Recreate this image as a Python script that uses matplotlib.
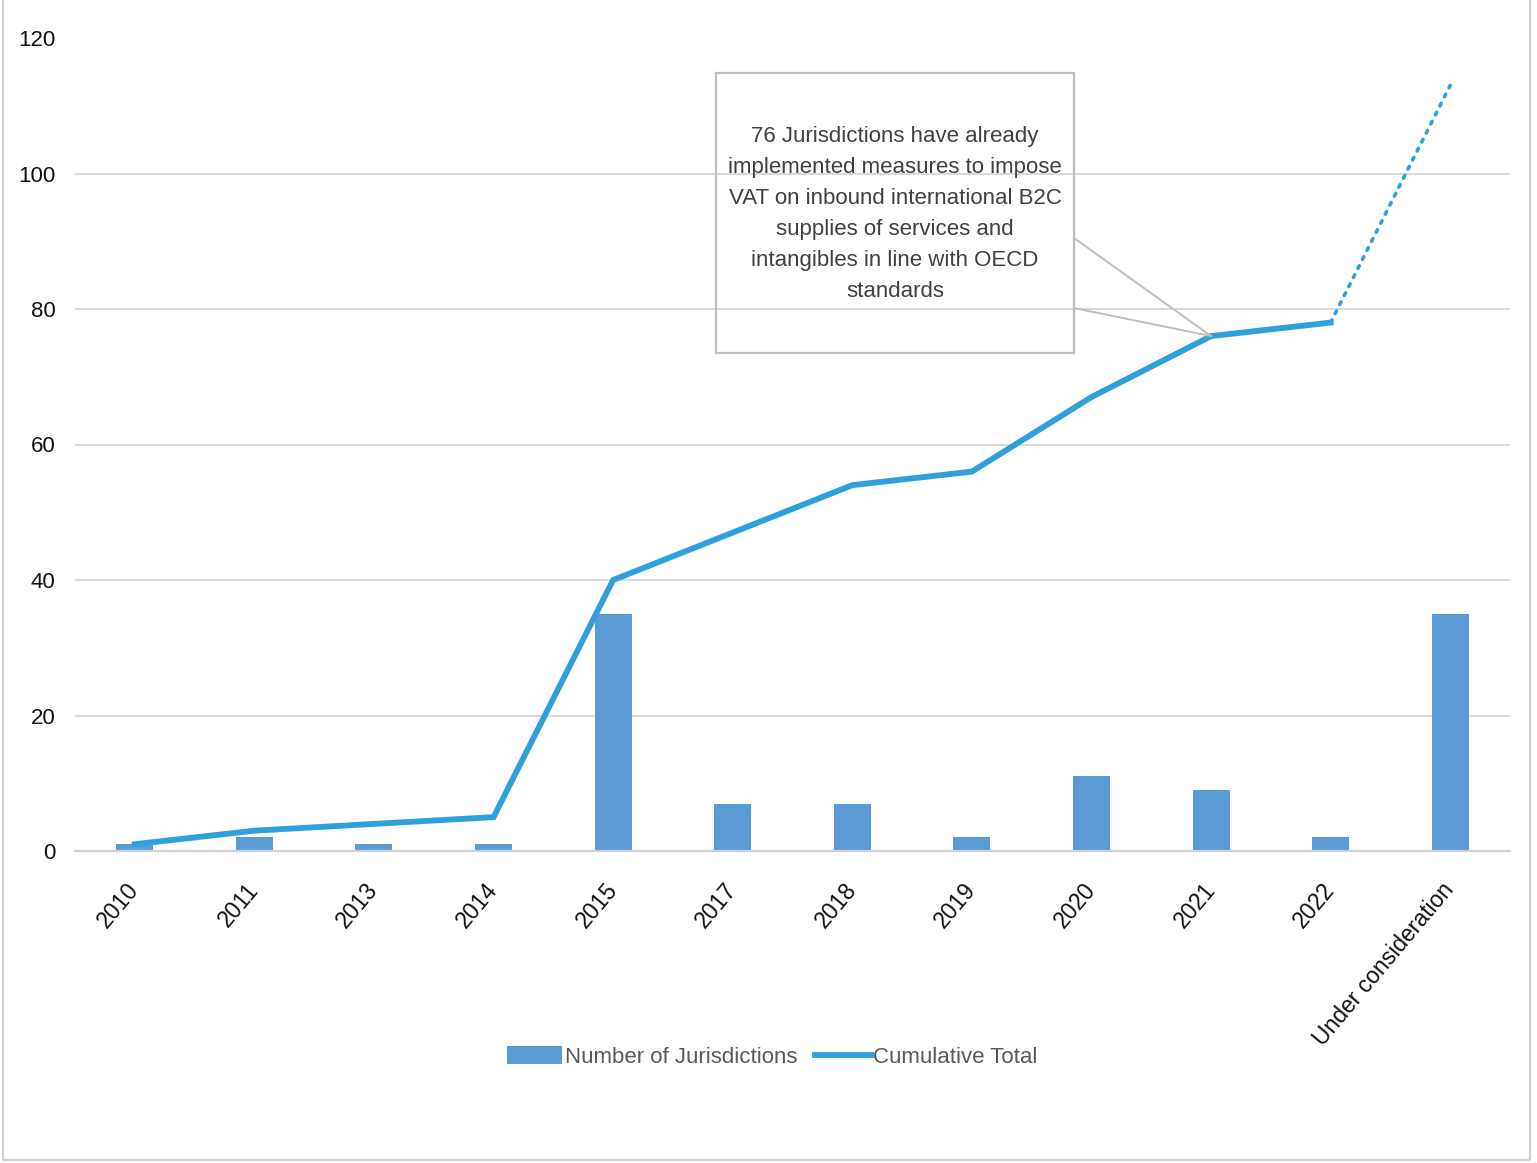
import matplotlib
matplotlib.use("Agg")
import matplotlib.pyplot as plt
from matplotlib.patches import Rectangle, Patch
from matplotlib.lines import Line2D
import numpy as np

plt.rcParams['font.family'] = ['Liberation Sans Narrow', 'Liberation Sans', 'DejaVu Sans']

categories = ["2010", "2011", "2013", "2014", "2015", "2017", "2018", "2019",
              "2020", "2021", "2022", "Under consideration"]
jurisdictions = [1, 2, 1, 1, 35, 7, 7, 2, 11, 9, 2, 35]
cumulative = [1, 3, 4, 5, 40, 47, 54, 56, 67, 76, 78, 113]
yticks = [0, 20, 40, 60, 80, 100, 120]
note = ("76 Jurisdictions have already\nimplemented measures to impose\n"
        "VAT on inbound international B2C\nsupplies of services and\n"
        "intangibles in line with OECD\nstandards")

BAR = "#5b9bd5"
LINE = "#2fa0dc"

W, H = 1537, 1163
fig = plt.figure(figsize=(W / 100, H / 100), dpi=100)
ax = fig.add_axes([75 / W, 1 - 851 / H, (1510 - 75) / W, (851 - 38) / H])

x = np.arange(len(categories))
bars = ax.bar(x, jurisdictions, width=0.31, color=BAR, zorder=2)
n_solid = len(categories) - 1
line, = ax.plot(x[:n_solid], cumulative[:n_solid], color=LINE, lw=4.2, zorder=3,
                solid_joinstyle="miter")
ax.plot(x[n_solid - 1:], cumulative[n_solid - 1:], color=LINE, lw=2.6,
        linestyle=(0, (0.8, 2.0)), dash_capstyle="round", zorder=3)

ax.set_xlim(-0.5, len(categories) - 0.5)
ax.set_ylim(0, 120)
ax.set_yticks(yticks)
ax.set_xticks(x)
ax.set_xticklabels(categories, rotation=50, ha="right", va="center",
                   rotation_mode="anchor", fontsize=16.5, color="#111111")
ax.tick_params(axis="x", length=0, pad=25)
ax.tick_params(axis="y", length=0, pad=14, labelsize=16, labelcolor="#111111")

ax.yaxis.grid(True, color="#d9d9d9", lw=1.4, zorder=0)
ax.set_axisbelow(True)
for s in ["left", "right", "top"]:
    ax.spines[s].set_visible(False)
ax.spines["bottom"].set_color("#d0d0d0")
ax.spines["bottom"].set_linewidth(1.6)
fig.canvas.draw()
ax.yaxis.get_gridlines()[-1].set_visible(False)

# callout box
bx0, bx1 = (716 - 75) / 1435, (1074 - 75) / 1435
by0, by1 = (851 - 353) / 813, (851 - 73) / 813
ax.add_patch(Rectangle((bx0, by0), bx1 - bx0, by1 - by0, transform=ax.transAxes,
                       fill=False, edgecolor="#bfbfbf", lw=1.6, zorder=4))
tx, ty = ax.transAxes.transform((bx1, (851 - 238) / 813))
px, py = ax.transData.transform((9, cumulative[9]))
tx2, ty2 = ax.transAxes.transform((bx1, (851 - 308) / 813))
inv = fig.transFigure.inverted()
for (ax_, ay_) in [(tx, ty), (tx2, ty2)]:
    a = inv.transform((ax_, ay_)); b = inv.transform((px, py))
    fig.add_artist(Line2D([a[0], b[0]], [a[1], b[1]], color="#bfbfbf", lw=1.4, zorder=4))
ax.text((bx0 + bx1) / 2, (851 - 214) / 813, note, transform=ax.transAxes,
        ha="center", va="center", fontsize=16, color="#404040",
        linespacing=1.62, zorder=5)

# legend
handles = [Patch(facecolor=BAR), Line2D([0], [0], color=LINE, lw=4.2)]
leg = fig.legend(handles, ["Number of Jurisdictions", "Cumulative Total"],
                 loc="center", bbox_to_anchor=(772 / W, 1 - 1057 / H), ncol=2,
                 frameon=False, fontsize=16, handlelength=2.5, handleheight=0.85,
                 handletextpad=0.1, columnspacing=0.8)
for t in leg.get_texts():
    t.set_color("#595959")

# outer frame
fig.add_artist(Rectangle((3 / W, 1 - 1160 / H), (1530 - 3) / W, 1160 / H + 0.01,
                         transform=fig.transFigure, fill=False,
                         edgecolor="#d0d0d0", lw=1.5))

fig.savefig("out.png", dpi=100)
